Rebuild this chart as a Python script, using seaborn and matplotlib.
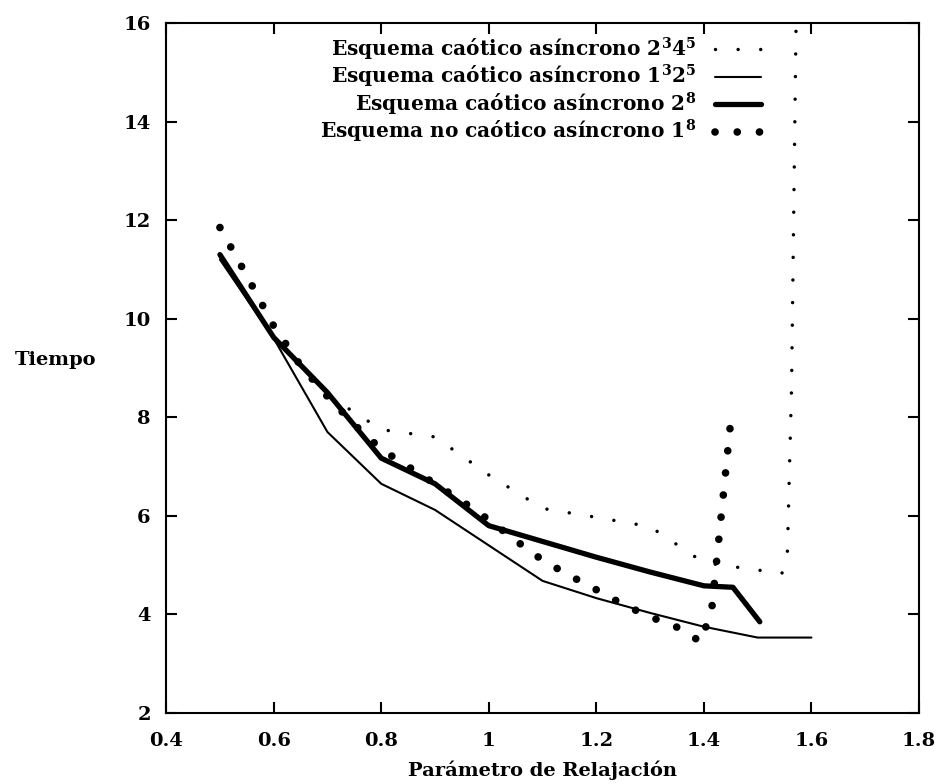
import matplotlib
matplotlib.use("Agg")
import matplotlib.pyplot as plt
import seaborn as sns

sns.set_style("ticks")
plt.rcParams["font.family"] = ["DejaVu Serif"]
plt.rcParams["font.weight"] = "bold"
plt.rcParams["mathtext.fontset"] = "dejavuserif"
for key in ["text.color", "axes.labelcolor", "xtick.color", "ytick.color", "axes.edgecolor"]:
    plt.rcParams[key] = "black"

# values
x_2345 = [0.5, 0.6, 0.7, 0.8, 0.9, 1.0, 1.1, 1.2, 1.3, 1.4, 1.5, 1.545, 1.555, 1.563, 1.572]
y_2345 = [11.3, 9.6, 8.45, 7.75, 7.6, 6.83, 6.15, 5.97, 5.78, 5.05, 4.9, 4.83, 5.15, 8.6, 16.5]

x_1325 = [0.5, 0.6, 0.7, 0.8, 0.9, 1.0, 1.1, 1.2, 1.3, 1.4, 1.5, 1.6]
y_1325 = [11.2, 9.6, 7.7, 6.65, 6.12, 5.4, 4.68, 4.33, 4.03, 3.75, 3.53, 3.53]

x_28 = [0.5, 0.6, 0.7, 0.8, 0.9, 1.0, 1.1, 1.2, 1.3, 1.4, 1.454, 1.504]
y_28 = [11.3, 9.62, 8.5, 7.17, 6.65, 5.8, 5.48, 5.16, 4.86, 4.58, 4.55, 3.85]

x_18 = [0.5, 0.55, 0.6, 0.65, 0.7, 0.75, 0.8, 0.85, 0.9, 0.95, 1.0, 1.05, 1.1,
        1.15, 1.2, 1.25, 1.3, 1.35, 1.395, 1.415, 1.435, 1.452]
y_18 = [11.85, 10.87, 9.85, 9.05, 8.42, 7.85, 7.35, 7.0, 6.65, 6.3, 5.92, 5.5, 5.1,
        4.79, 4.5, 4.2, 3.95, 3.74, 3.44, 4.15, 6.3, 8.15]

labels = [
    r"Esquema caótico asíncrono $\mathbf{2^{3}4^{5}}$",
    r"Esquema caótico asíncrono $\mathbf{1^{3}2^{5}}$",
    r"Esquema caótico asíncrono $\mathbf{2^{8}}$",
    r"Esquema no caótico asíncrono $\mathbf{1^{8}}$",
]

x_ticks = [0.4, 0.6, 0.8, 1.0, 1.2, 1.4, 1.6, 1.8]
x_tick_labels = ["0.4", "0.6", "0.8", "1", "1.2", "1.4", "1.6", "1.8"]
y_ticks = [2, 4, 6, 8, 10, 12, 14, 16]

fig = plt.figure(figsize=(9.44, 7.84), dpi=100)
ax = fig.add_axes([0.176, 0.0906, 0.7975, 0.8801])

sns.lineplot(x=x_2345, y=y_2345, sort=False, estimator=None, color="black", lw=2.5,
             linestyle=(0, (0.01, 6.5)), dash_capstyle="round", label=labels[0], ax=ax)
sns.lineplot(x=x_1325, y=y_1325, sort=False, estimator=None, color="black", lw=1.5,
             label=labels[1], ax=ax)
sns.lineplot(x=x_28, y=y_28, sort=False, estimator=None, color="black", lw=3.8,
             solid_capstyle="round", label=labels[2], ax=ax)
sns.lineplot(x=x_18, y=y_18, sort=False, estimator=None, color="black", lw=5.5,
             linestyle=(0, (0.01, 2.9)), dash_capstyle="round", label=labels[3], ax=ax)

ax.set(xlim=(0.4, 1.8), ylim=(2, 16))
ax.set_xticks(x_ticks)
ax.set_xticklabels(x_tick_labels)
ax.set_yticks(y_ticks)
ax.tick_params(direction="in", length=8, width=1.5, top=True, right=True, labelsize=14)
ax.tick_params(axis="x", pad=14)
ax.tick_params(axis="y", pad=11)
for sp in ax.spines.values():
    sp.set_linewidth(1.5)

ax.set_xlabel("Parámetro de Relajación", fontsize=14, fontweight="bold", va="center")
ax.xaxis.set_label_coords(0.5, -0.083)
ax.set_ylabel("Tiempo", fontsize=14, fontweight="bold", rotation=0, va="center", ha="center")
ax.yaxis.set_label_coords(-0.147, 0.512)

ax.legend(loc="upper right", bbox_to_anchor=(0.79, 0.982), frameon=False, markerfirst=False,
          fontsize=14.5, handlelength=2.3, handletextpad=0.9, labelspacing=0.02,
          borderpad=0, borderaxespad=0)

fig.savefig("out.png", dpi=100)
